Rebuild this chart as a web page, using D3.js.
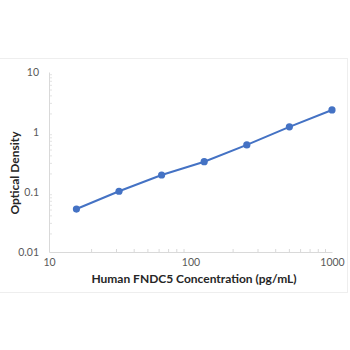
<!DOCTYPE html>
<html>
<head>
<meta charset="utf-8">
<script src="https://cdn.jsdelivr.net/npm/d3@7"></script>
<style>
  html, body { margin: 0; padding: 0; background: #fff; }
  svg { display: block; }
</style>
</head>
<body>
<svg id="chart" width="350" height="350"></svg>
<script>
// Standard curve: concentration (pg/mL) vs optical density
const concentration = [15.625, 31.25, 62.5, 125, 250, 500, 1000];
const opticalDensity = [0.052, 0.103, 0.192, 0.32, 0.61, 1.22, 2.33];
const xTickValues = [10, 100, 1000];
const yTickValues = [0.01, 0.1, 1, 10];
const xTitle = "Human FNDC5 Concentration (pg/mL)";
const yTitle = "Optical Density";

(function () {
  const svg = d3.select("#chart");
  const plot = { left: 49, right: 332, top: 72, bottom: 252 };

  const x = d3.scaleLog().domain([10, 1000]).range([plot.left, plot.right]);
  const y = d3.scaleLog().domain([0.01, 10]).range([plot.bottom, plot.top]);

  const font = "Lato, 'Open Sans', 'Liberation Sans', sans-serif";

  // faint chart-area frame
  svg.append("rect")
    .attr("x", -1).attr("y", 58.5).attr("width", 348.5).attr("height", 234)
    .attr("fill", "none").attr("stroke", "#eeeeee").attr("stroke-width", 1);

  // minor ticks (inside the plot)
  const xMinor = [];
  for (let d = 10; d < 1000; d *= 10) for (let k = 2; k <= 9; k++) xMinor.push(d * k);
  const yMinor = [];
  for (let d = 0.01; d < 9; d *= 10) for (let k = 2; k <= 9; k++) yMinor.push(d * k);

  svg.append("g").selectAll("line").data(xMinor).join("line")
    .attr("x1", d => x(d)).attr("x2", d => x(d))
    .attr("y1", plot.bottom).attr("y2", plot.bottom - 3)
    .attr("stroke", "#d9d9d9").attr("stroke-width", 1);
  svg.append("g").selectAll("line").data(yMinor).join("line")
    .attr("x1", plot.left).attr("x2", plot.left + 3)
    .attr("y1", d => y(d)).attr("y2", d => y(d))
    .attr("stroke", "#e3e3e3").attr("stroke-width", 1);

  // axes
  const xAxis = d3.axisBottom(x).tickValues(xTickValues).tickFormat(d3.format("d")).tickSize(0).tickPadding(7);
  const gx = svg.append("g").attr("transform", `translate(0,${plot.bottom})`).call(xAxis);
  gx.select(".domain").attr("stroke", "#d9d9d9");
  gx.selectAll("text").attr("font-family", font).attr("font-size", 10.5).attr("fill", "#595959");

  const yAxis = d3.axisLeft(y).tickValues(yTickValues)
    .tickFormat(d => d >= 1 ? d3.format("d")(d) : String(d)).tickSize(0).tickPadding(10);
  const gy = svg.append("g").attr("transform", `translate(${plot.left},0)`).call(yAxis);
  gy.select(".domain").attr("stroke", "#d9d9d9");
  gy.selectAll("text").attr("font-family", font).attr("font-size", 10.5).attr("fill", "#595959");

  // series
  const pts = concentration.map((c, i) => [c, opticalDensity[i]]);
  svg.append("path")
    .datum(pts)
    .attr("fill", "none").attr("stroke", "#4472c4").attr("stroke-width", 2)
    .attr("d", d3.line().x(d => x(d[0])).y(d => y(d[1])));
  svg.append("g").selectAll("circle").data(pts).join("circle")
    .attr("cx", d => x(d[0])).attr("cy", d => y(d[1])).attr("r", 3.6)
    .attr("fill", "#4472c4");

  // axis titles
  svg.append("text")
    .attr("x", 194).attr("y", 283)
    .attr("text-anchor", "middle").attr("font-family", font)
    .attr("font-weight", "bold").attr("font-size", 12).attr("fill", "#262626")
    .text(xTitle);
  svg.append("text")
    .attr("transform", `translate(19,173) rotate(-90)`)
    .attr("text-anchor", "middle").attr("font-family", font)
    .attr("font-weight", "bold").attr("font-size", 12).attr("fill", "#262626")
    .text(yTitle);
})();
</script>
</body>
</html>
